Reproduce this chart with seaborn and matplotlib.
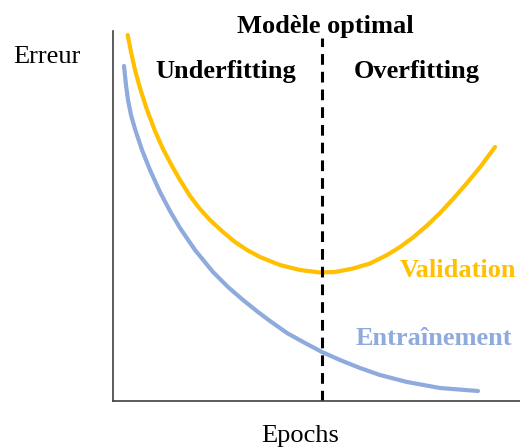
import matplotlib
matplotlib.use("Agg")
import matplotlib.pyplot as plt
import seaborn as sns
import pandas as pd

# Training error (blue) (arbitrary units)
train_epoch = [11, 13, 15, 18, 22, 29, 37, 47, 57, 67, 82, 100, 115, 130, 145, 157,
               174, 192, 209, 227, 247, 267, 294, 327, 365]
train_error = [335, 316, 301, 286, 272, 251, 231, 209, 190, 173, 151, 129, 114, 101,
               89, 80, 68, 58, 49, 41, 33, 26, 19, 13, 10]

# Validation error (gold) (arbitrary units)
val_epoch = [14.7, 18, 22, 27, 33.7, 42, 50, 59, 67, 77, 87, 97, 110, 122, 134, 147,
             167, 187, 207, 222, 240, 257, 274, 287, 300, 314, 327, 340, 354, 368, 382]
val_error = [366, 349, 331, 313, 292, 270, 252, 235, 221, 205, 192, 181, 169, 159, 151,
             144, 136, 131, 128.5, 129, 132.5, 137.5, 146, 154, 163.5, 175.5, 188, 202,
             218, 235, 254]

optimal_epoch = 209
x_max, y_max = 407, 370

labels = {
    "y": "Erreur",
    "x": "Epochs",
    "optimal": "Modèle optimal",
    "under": "Underfitting",
    "over": "Overfitting",
    "val": "Validation",
    "train": "Entraînement",
}

BLUE = "#8FAADC"
GOLD = "#FFC000"

sns.set_style("white")
plt.rcParams["font.family"] = ["Liberation Serif", "DejaVu Serif"]
plt.rcParams["text.color"] = "black"

W, H = 520, 447
fig = plt.figure(figsize=(W / 100, H / 100), dpi=100)
ax = fig.add_axes([113 / W, (H - 401) / H, (W - 113) / W, (401 - 31) / H])

df_t = pd.DataFrame({"epoch": train_epoch, "error": train_error})
df_v = pd.DataFrame({"epoch": val_epoch, "error": val_error})
sns.lineplot(data=df_t, x="epoch", y="error", ax=ax, color=BLUE, linewidth=3.0,
             sort=False, estimator=None)
sns.lineplot(data=df_v, x="epoch", y="error", ax=ax, color=GOLD, linewidth=3.0,
             sort=False, estimator=None)

ax.set_xlim(0, x_max)
ax.set_ylim(0, y_max)
ax.plot([optimal_epoch, optimal_epoch], [0, 363], color="black", linewidth=2.2,
        linestyle=(0, (3.5, 2.3)), solid_capstyle="butt")

ax.set_xticks([])
ax.set_yticks([])
ax.set_xlabel("")
ax.set_ylabel("")
for s in ["top", "right"]:
    ax.spines[s].set_visible(False)
for s in ["left", "bottom"]:
    ax.spines[s].set_color("#404040")
    ax.spines[s].set_linewidth(1.2)


def ftext(px, py, s, **kw):
    fig.text(px / W, 1 - py / H, s, ha="center", va="baseline", fontsize=19, **kw)


ftext(47, 63, labels["y"], color="black")
ftext(300, 442, labels["x"], color="black")
ftext(325, 33, labels["optimal"], fontweight="bold", color="black")
ftext(226, 78, labels["under"], fontweight="bold", color="black")
ftext(416.5, 78, labels["over"], fontweight="bold", color="black")
ftext(458.5, 277, labels["val"], fontweight="bold", color=GOLD)
ftext(434, 345, labels["train"], fontweight="bold", color=BLUE)

fig.savefig("out.png", dpi=100)
